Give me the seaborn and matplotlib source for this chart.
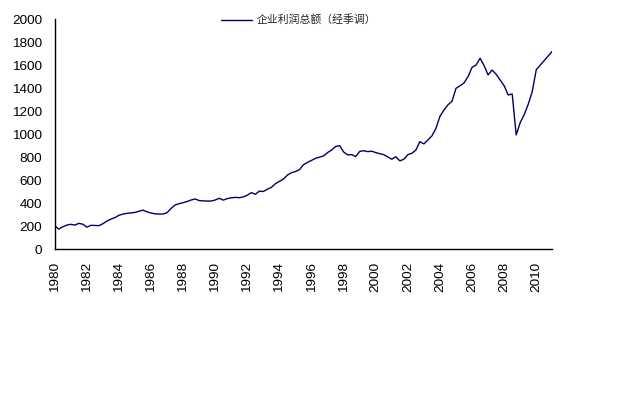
import numpy as np
import pandas as pd
import matplotlib
matplotlib.use("Agg")
import matplotlib.pyplot as plt
import seaborn as sns

series_name = "企业利润总额（经季调）"
start_year = 1980
profits = [
    205, 175, 195, 210,      # 1980
    217, 210, 225, 218,      # 1981
    192, 208, 207, 205,      # 1982
    222, 245, 262, 275,      # 1983
    295, 306, 312, 316,      # 1984
    320, 330, 340, 325,      # 1985
    315, 308, 306, 306,      # 1986
    318, 355, 385, 396,      # 1987
    405, 415, 428, 437,      # 1988
    423, 420, 419, 419,      # 1989
    428, 443, 427, 440,      # 1990
    447, 451, 448, 455,      # 1991
    470, 492, 478, 505,      # 1992
    502, 522, 538, 570,      # 1993
    590, 610, 645, 665,      # 1994
    675, 692, 735, 755,      # 1995
    772, 790, 800, 812,      # 1996
    840, 862, 893, 900,      # 1997
    845, 820, 822, 805,      # 1998
    850, 856, 848, 852,      # 1999
    840, 830, 822, 802,      # 2000
    782, 804, 768, 782,      # 2001
    822, 834, 862, 935,      # 2002
    915, 950, 985, 1050,     # 2003
    1155, 1210, 1255, 1285,  # 2004
    1398, 1420, 1445, 1500,  # 2005
    1580, 1600, 1659, 1595,  # 2006
    1514, 1557, 1520, 1470,  # 2007
    1420, 1340, 1349, 993,   # 2008
    1100, 1170, 1260, 1370,  # 2009
    1560, 1600, 1640, 1680,  # 2010
    1720,                    # 2011
]
year_ticks = list(range(1980, 2011, 2))
y_ticks = list(range(0, 2001, 200))

df = pd.DataFrame({
    "t": start_year + np.arange(len(profits)) / 4.0,
    "v": profits,
})

sns.set_style("white")
plt.rcParams["font.family"] = ["Liberation Sans", "Noto Sans CJK SC", "DejaVu Sans"]

fig = plt.figure(figsize=(6.4, 4.0), dpi=100)
ax = fig.add_axes([0.0855, 0.3768, 0.863 - 0.0855, 0.9525 - 0.3768])

sns.lineplot(data=df, x="t", y="v", ax=ax, color="#000066", linewidth=1.0,
             label=series_name)

ax.set_xlim(1980, 2011)
ax.set_ylim(0, 2000)
ax.set_xticks(year_ticks)
ax.set_xticklabels([str(y) for y in year_ticks], rotation=90)
ax.set_yticks(y_ticks)
ax.set_yticklabels([str(v) for v in y_ticks])
ax.set_xlabel("")
ax.set_ylabel("")

for s in ["top", "right"]:
    ax.spines[s].set_visible(False)
for s in ["left", "bottom"]:
    ax.spines[s].set_color("black")
    ax.spines[s].set_linewidth(1.0)

ax.tick_params(axis="both", direction="in", length=3, width=0.8, color="black",
               labelsize=9.7, labelcolor="black", pad=9)

leg = ax.legend(loc="center", bbox_to_anchor=(0.467, 0.95),
                bbox_transform=fig.transFigure, frameon=False,
                fontsize=7.8, handlelength=2.8, handletextpad=0.5,
                prop={"family": ["Noto Sans CJK SC", "DejaVu Sans"], "size": 7.8})

fig.savefig("out.png", dpi=100, facecolor="white")
